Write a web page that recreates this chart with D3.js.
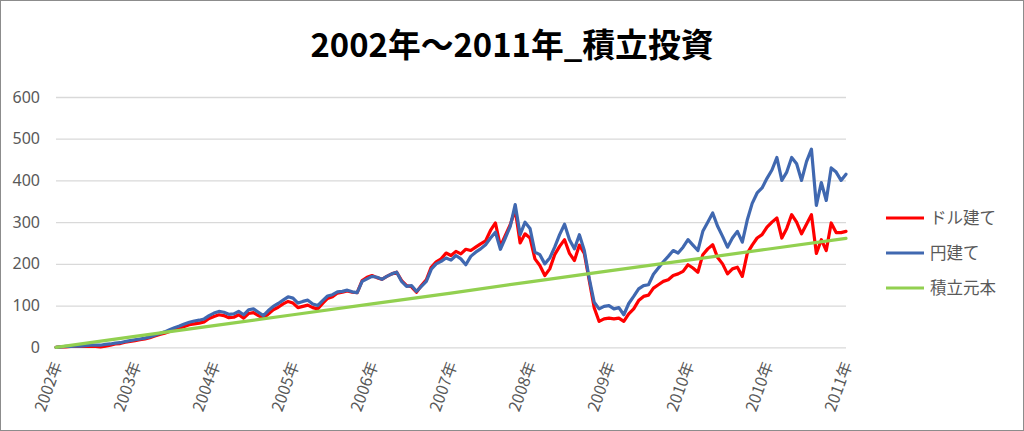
<!DOCTYPE html>
<html><head><meta charset="utf-8">
<script src="https://cdn.jsdelivr.net/npm/d3@7"></script>
<style>
html,body{margin:0;padding:0;background:#fff;}
svg{display:block;}
</style></head>
<body>
<svg id="chart" width="1024" height="431"></svg>
<script>
const title = "2002年～2011年_積立投資";
const xLabels = ["2002年","2003年","2004年","2005年","2006年","2007年","2008年","2009年","2010年","2010年","2011年"];
const yTicks = [0,100,200,300,400,500,600];
const seriesNames = ["ドル建て","円建て","積立元本"];
const seriesColors = ["#ff0000","#4068b0","#92d050"];
const pointsPerLabel = 16;

const dollarValues = [
0,1,1,2,2,2,2,3,2,1,
3,5,8,9,12,14,16,18,20,23,
27,31,34,38,42,46,50,54,56,58,
61,69,74,78,76,71,72,78,70,81,
83,76,70,80,90,96,104,110,106,95,
98,101,95,92,105,117,121,130,132,135,
132,131,160,168,172,167,163,170,176,180,
160,148,145,132,148,162,192,205,212,226,
220,230,224,235,232,240,248,255,280,298,
242,268,294,330,250,272,262,212,196,172,
188,222,242,258,225,208,245,225,160,95,
62,68,70,68,70,62,80,92,112,122,
125,142,150,158,162,172,176,182,198,190,
180,222,236,246,215,200,176,188,192,170,
225,245,262,270,288,300,310,262,285,318,
300,272,295,318,225,258,232,298,275,275,
278];

const yenValues = [
0,1,2,2,3,3,4,5,5,5,
7,8,10,11,14,16,18,20,22,25,
29,33,37,42,47,51,56,60,63,65,
68,76,82,86,84,79,80,86,78,90,
92,84,76,88,98,105,113,121,118,106,
110,113,104,100,112,123,126,133,134,137,
133,131,158,164,170,168,163,170,176,180,
158,146,148,134,146,158,187,200,206,214,
209,220,212,198,218,228,236,246,262,276,
235,262,290,342,270,300,285,228,222,200,
214,240,270,295,258,236,270,232,165,108,
92,98,100,92,95,78,105,122,140,148,
150,175,190,205,218,232,226,240,258,245,
232,278,300,322,290,266,240,262,278,252,
305,345,370,382,405,425,455,400,420,455,
440,400,445,475,340,395,352,430,420,400,
415];

// accumulated principal, read at each labelled point
const principalValues = [0,26,52,78,104,130,157,183,209,235,261];

const svg = d3.select("#chart");
const W = 1024, H = 431;

svg.append("rect").attr("x",0.5).attr("y",0.5).attr("width",W-1).attr("height",H-1)
  .attr("fill","#fff").attr("stroke","#8c8c8c").attr("stroke-width",1);

const n = yenValues.length;
const x = d3.scaleLinear().domain([0, n-1]).range([56, 846]);
const y = d3.scaleLinear().domain([0, 600]).range([347.3, 97]);

// title
svg.append("text").attr("x",512).attr("y",57).attr("text-anchor","middle")
  .attr("font-family","'Noto Sans CJK JP','Noto Sans',sans-serif")
  .attr("font-weight","bold").attr("font-size",32.8).attr("fill","#000")
  .text(title);

// y axis with gridlines
const yAxis = d3.axisLeft(y).tickValues(yTicks).tickSize(-(846-56)).tickPadding(16);
const gy = svg.append("g").attr("transform","translate(56,0)").call(yAxis);
gy.select(".domain").remove();
gy.selectAll(".tick line").attr("stroke","#d9d9d9").attr("stroke-width",1.3);
gy.selectAll(".tick text").attr("fill","#595959").attr("font-size",16)
  .attr("font-family","'Noto Sans','Liberation Sans',sans-serif");

// x axis
const tickIdx = xLabels.map((d,i)=>i*pointsPerLabel);
const xAxis = d3.axisBottom(x).tickValues(tickIdx).tickSize(0).tickFormat((d,i)=>xLabels[i]);
const gx = svg.append("g").attr("transform","translate(0,347.3)").call(xAxis);
gx.select(".domain").remove();
gx.selectAll(".tick text")
  .attr("fill","#595959").attr("font-size",16)
  .attr("font-family","'Noto Sans CJK JP','Noto Sans',sans-serif")
  .attr("text-anchor","end").attr("dy",null).attr("y",null)
  .attr("transform","translate(6,17) rotate(-70)");

// lines
const line = d3.line().x(d=>x(d[0])).y(d=>y(d[1]));
const dollarPts = dollarValues.map((v,i)=>[i,v]);
const yenPts = yenValues.map((v,i)=>[i,v]);
const principalPts = principalValues.map((v,i)=>[i*pointsPerLabel,v]);
[dollarPts, yenPts, principalPts].forEach((pts,k)=>{
  svg.append("path").datum(pts).attr("d",line).attr("fill","none")
    .attr("stroke",seriesColors[k]).attr("stroke-width",3.2)
    .attr("stroke-linejoin","round").attr("stroke-linecap","round");
});

// legend
const legendY = [218,253,288];
seriesNames.forEach((name,k)=>{
  const g = svg.append("g").attr("transform",`translate(0,${legendY[k]})`);
  g.append("line").attr("x1",886).attr("x2",924).attr("y1",0).attr("y2",0)
    .attr("stroke",seriesColors[k]).attr("stroke-width",3);
  g.append("text").attr("x",930).attr("y",0).attr("dy","0.35em")
    .attr("fill","#595959").attr("font-size",16.5)
    .attr("font-family","'Noto Sans CJK JP',sans-serif").text(name);
});
</script>
</body></html>
